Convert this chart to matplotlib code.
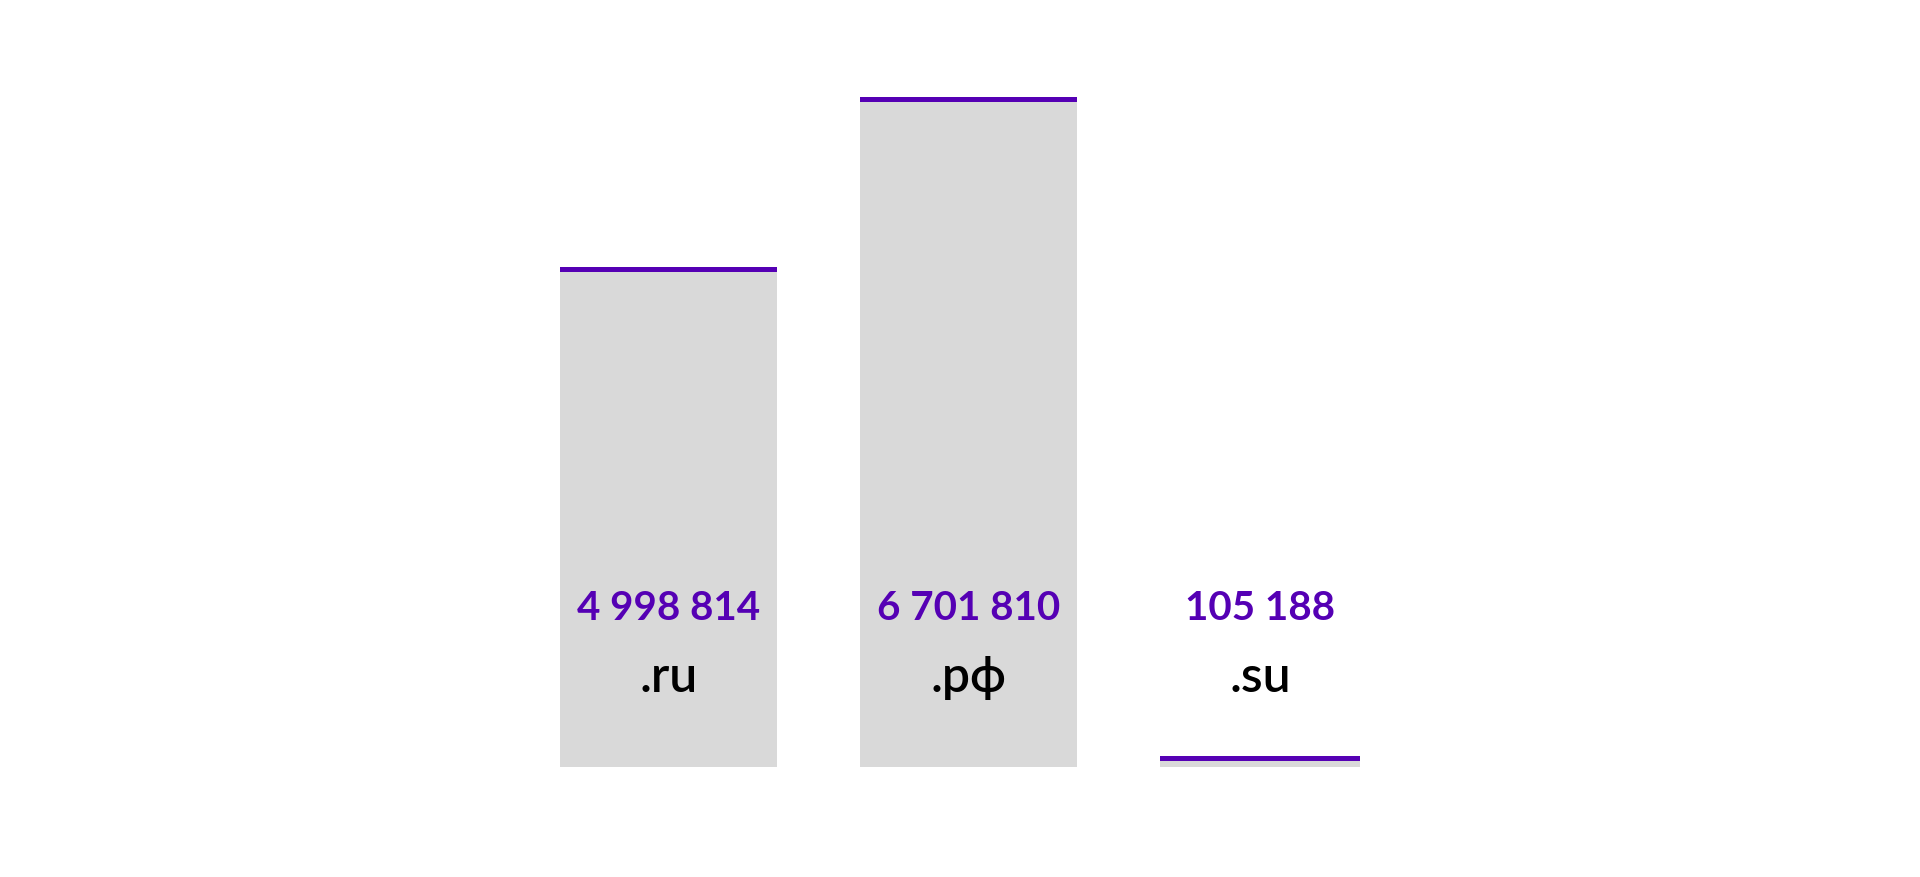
import matplotlib
matplotlib.use("Agg")
import matplotlib.pyplot as plt
from matplotlib.transforms import blended_transform_factory

# data
domains = [".ru", ".рф", ".su"]
counts = [4998814, 6701810, 105188]
value_labels = ["4 998 814", "6 701 810", "105 188"]

purple = "#5500b4"
gray = "#d9d9d9"
bar_widths = [217 / 300, 217 / 300, 200 / 300]  # in category units (300 px each)

plt.rcParams['font.family'] = ['Lato', 'DejaVu Sans']

fig = plt.figure(figsize=(19.2, 8.78), dpi=100)
ax_h_px = 670
ax = fig.add_axes([560 / 1920, 110 / 878, 900 / 1920, ax_h_px / 878])
ymax = max(counts)
ax.set_xlim(0, 3)
ax.set_ylim(0, ymax)
ax.axis("off")

xs = list(range(len(domains)))
ax.bar(xs, counts, width=bar_widths, align="edge", color=gray, linewidth=0)

# purple cap 5 px thick at top of each bar
cap = 5 / ax_h_px * ymax
ax.bar(xs, [cap] * len(counts), bottom=[c - cap for c in counts],
       width=bar_widths, align="edge", color=purple, linewidth=0)

trans = blended_transform_factory(ax.transData, ax.transAxes)
for i, (d, lab) in enumerate(zip(domains, value_labels)):
    cx = i + bar_widths[i] / 2
    ax.text(cx, (878 - 620 - 110) / ax_h_px, lab, transform=trans,
            ha="center", va="baseline", fontsize=29, fontweight="bold",
            color=purple)
    ax.text(cx, (878 - 692 - 110) / ax_h_px, d, transform=trans,
            ha="center", va="baseline", fontsize=36, fontweight="semibold",
            color="black")

fig.savefig("out.png", dpi=100)
